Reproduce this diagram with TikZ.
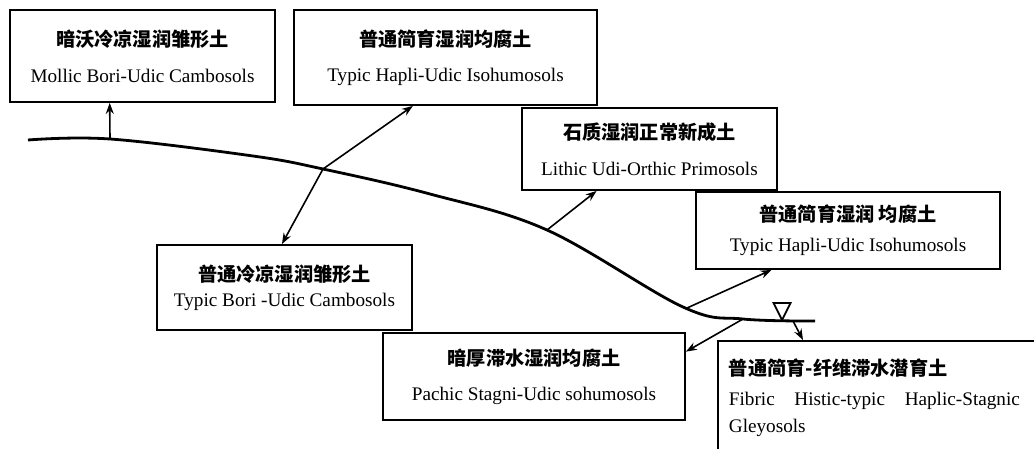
\documentclass[tikz,border=0pt]{standalone}
\usepackage{fontspec}
\setmainfont{Liberation Serif}
\newfontfamily\cjk{Noto Sans CJK SC}
\usetikzlibrary{arrows.meta,calc}

\tikzset{
  soil/.style={draw, line width=0.9pt, inner sep=0pt, align=center, font=\fontsize{9.6}{12}\selectfont},
  link/.style={line width=0.8pt, -{Stealth[length=5.5pt,width=4pt]}},
  ground/.style={line width=1.4pt}
}

\begin{document}
\begin{tikzpicture}[x=0.5pt,y=-0.5pt]
\useasboundingbox (0,0) rectangle (1034,449);
\clip (0,0) rectangle (1034,449);

\node[soil, minimum width=132.5pt, minimum height=46pt] (mollic) at (142.5,56)
  {{\cjk\bfseries 暗沃冷凉湿润雏形土}\\[6pt] Mollic Bori-Udic Cambosols};
\node[soil, minimum width=151.5pt, minimum height=47.5pt] (hapliA) at (445.5,57.5)
  {{\cjk\bfseries 普通简育湿润均腐土}\\[5.5pt] Typic Hapli-Udic Isohumosols};
\node[soil, minimum width=127.5pt, minimum height=41pt] (lithic) at (649.5,149)
  {{\cjk\bfseries 石质湿润正常新成土}\\[6pt] Lithic Udi-Orthic Primosols};
\node[soil, minimum width=152pt, minimum height=38.5pt] (hapliB) at (848,230.5)
  {{\cjk\bfseries 普通简育湿润 均腐土}\\[3pt] Typic Hapli-Udic Isohumosols};
\node[soil, minimum width=127.5pt, minimum height=42.5pt] (bori) at (284.5,287.5)
  {{\cjk\bfseries 普通冷凉湿润雏形土}\\[0.5pt] Typic Bori -Udic Cambosols};
\node[soil, minimum width=151pt, minimum height=43.5pt] (pachic) at (534,376.5)
  {{\cjk\bfseries 暗厚滞水湿润均腐土}\\[5.5pt] Pachic Stagni-Udic sohumosols};
\node[soil, align=left, anchor=north west, text width=165pt, inner xsep=5.5pt, inner ysep=9pt] (fibric) at (717,340)
  {{\cjk\bfseries 普通简育-纤维滞水潜育土}\\[3pt]
   \makebox[145.5pt][l]{Fibric\hfill Histic-typic\hfill Haplic-Stagnic}\\[1.5pt] Gleyosols};

\draw[ground] plot[smooth, tension=0.6] coordinates {(28,140) (110,139) (253,156) (323,169) (430,194) (547,230) (683,307) (743,319) (815,321)};

\coordinate (pA) at (110,139);
\coordinate (pB) at (323,169);
\coordinate (pC) at (547,230);
\coordinate (pD) at (687,308);
\coordinate (pF) at (743,319);
\coordinate (wt) at (782,320);
\coordinate (pG) at (793,321);

\draw[link] (pA) -- ($(mollic.south west)!0.377!(mollic.south east)$);
\draw[link] (pB) -- ($(hapliA.south west)!0.393!(hapliA.south east)$);
\draw[link] (pB) -- ($(bori.north west)!0.49!(bori.north east)$);
\draw[link] (pC) -- ($(lithic.south west)!0.294!(lithic.south east)$);
\draw[link] (pD) -- ($(hapliB.south west)!0.25!(hapliB.south east)$);
\draw[link] (pF) -- ($(pachic.north east)!0.22!(pachic.south east)$);
\draw[link] (pG) -- ($(fibric.north west)+(86,0)$);

\draw[line width=0.9pt] (wt) -- ++(-8.5,-17) -- ++(17,0) -- cycle;
\end{tikzpicture}
\end{document}
